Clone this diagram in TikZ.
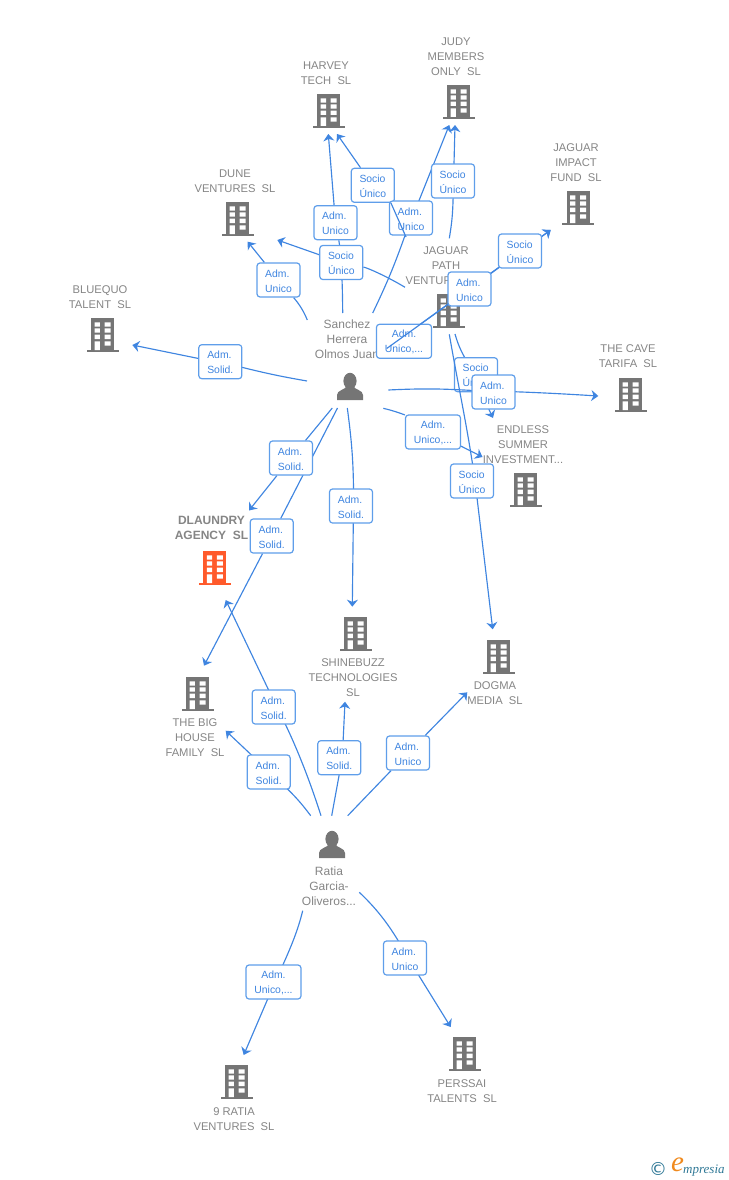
\documentclass[tikz,border=0pt]{standalone}
\usepackage{fontspec}
\setmainfont{Liberation Sans}
\newfontfamily\logoserif{Liberation Serif}
\newfontfamily\logosym{DejaVu Sans}
\usetikzlibrary{arrows.meta}
\definecolor{bldgray}{HTML}{757575}
\definecolor{txtgray}{HTML}{858585}
\definecolor{hot}{HTML}{FF5A2B}
\definecolor{linkblue}{HTML}{3F85E0}
\definecolor{boxblue}{HTML}{5F9EEA}
\definecolor{logoblue}{HTML}{2F7896}
\definecolor{logoorange}{HTML}{F08A1E}
\newcommand\bxl[1]{\raisebox{-0.9pt}[\height][\depth]{#1}}
\newcommand\bx[2]{\bxl{#1}\\\bxl{#2}}
\pgfdeclarelayer{base}\pgfdeclarelayer{edgeslow}\pgfdeclarelayer{lowbox}\pgfdeclarelayer{edges}\pgfdeclarelayer{top}
\pgfsetlayers{base,edgeslow,lowbox,edges,main,top}
\tikzset{
  x=1pt,y=-1pt,
  pics/bld/.style={code={
    \fill[#1] (-11.5,0) rectangle (11.5,32);
    \fill[#1] (-16,32) rectangle (16,34);
    \fill[white] (-8,4.3) rectangle (-2.7,8.7) (2,4.3) rectangle (8,8.7)
      (-8,10.3) rectangle (-2.7,14.6) (2,10.3) rectangle (8,14.6)
      (-8,16.7) rectangle (-2.7,21) (2,16.7) rectangle (8,21)
      (-8,23.3) rectangle (-2.7,32) (2,23.3) rectangle (8,27.7);
  }},
  pics/person/.style={code={
    \fill[bldgray] (0,8) ellipse (6.6 and 8.2);
    \fill[bldgray] (-13,27) -- (-13,22) .. controls (-13,17) and (-5,17) .. (-3,13) -- (3,13)
      .. controls (5,17) and (13,17) .. (13,22) -- (13,27) -- cycle;
  }},
  cname/.style={font=\fontsize{11.2}{15}\selectfont,text=txtgray,align=center,inner sep=0pt},
  hotname/.style={font=\fontsize{12}{15}\bfseries\selectfont,text=txtgray,align=center,inner sep=0pt},
  pername/.style={font=\fontsize{12}{15}\selectfont,text=txtgray,align=center,inner sep=0pt},
  lbl/.style={draw=boxblue,line width=1.2pt,fill=white,rounded corners=3pt,minimum width=43pt,minimum height=34pt,inner sep=0pt,
    font=\fontsize{10.4}{15}\selectfont,text=linkblue,align=left},
  lblw/.style={lbl,minimum width=55pt,align=center},
  conn/.style={draw=linkblue,line width=1.15pt},
  arr/.style={conn,-{Stealth[length=7pt,width=11pt,inset=2.2pt]}},
}
\begin{document}
\begin{tikzpicture}
\useasboundingbox (0,0) rectangle (728,1180);
\begin{pgfonlayer}{base}
  \pic (bHarvey) at (328.7,94) {bld=bldgray};
  \pic (bJudy) at (458.5,85) {bld=bldgray};
  \pic (bImpact) at (578,191) {bld=bldgray};
  \pic (bDune) at (237.5,202) {bld=bldgray};
  \pic (bPath) at (448.5,294) {bld=bldgray};
  \pic (bBlue) at (102.5,318) {bld=bldgray};
  \pic (bCave) at (630.5,378) {bld=bldgray};
  \pic (bEndless) at (525.5,473) {bld=bldgray};
  \pic (bDla) at (214.8,551) {bld=hot};
  \pic (bShine) at (355.5,617) {bld=bldgray};
  \pic (bDogma) at (498.5,640) {bld=bldgray};
  \pic (bBig) at (197.5,677) {bld=bldgray};
  \pic (bPers) at (464.5,1037) {bld=bldgray};
  \pic (bNine) at (236.5,1065) {bld=bldgray};
  \pic (pSan) at (350,373) {person};
  \pic (pRat) at (332,831) {person};
  \node[cname] (tHarvey) at (326,73) {HARVEY\\TECH~~SL};
  \node[cname] (tJudy) at (456,57) {JUDY\\MEMBERS\\ONLY~~SL};
  \node[cname] (tImpact) at (576,163) {JAGUAR\\IMPACT\\FUND~~SL};
  \node[cname] (tDune) at (235,181) {DUNE\\VENTURES~~SL};
  \node[cname] (tPath) at (446,266) {JAGUAR\\PATH\\VENTURES~~SL};
  \node[cname] (tBlue) at (100,297) {BLUEQUO\\TALENT~~SL};
  \node[cname] (tCave) at (628,356) {THE CAVE\\TARIFA~~SL};
  \node[cname] (tEndless) at (523,445) {ENDLESS\\SUMMER\\INVESTMENT...};
  \node[hotname] (tDla) at (211.5,528) {DLAUNDRY\\AGENCY~~SL};
  \node[cname] (tShine) at (353,678) {SHINEBUZZ\\TECHNOLOGIES\\SL};
  \node[cname] (tDogma) at (495,693) {DOGMA\\MEDIA~~SL};
  \node[cname] (tBig) at (195,738) {THE BIG\\HOUSE\\FAMILY~~SL};
  \node[cname] (tPers) at (462,1091) {PERSSAI\\TALENTS~~SL};
  \node[cname] (tNine) at (234,1119) {9 RATIA\\VENTURES~~SL};
  \node[pername] (tSan) at (347,339) {Sanchez\\Herrera\\Olmos Juan};
  \node[pername] (tRat) at (329,886) {Ratia\\Garcia-\\Oliveros...};
\end{pgfonlayer}

% free ends
\coordinate (sTop) at (372.7,313);
\coordinate (jn) at (406,237);
\coordinate (sHarv) at (342.7,313);
\coordinate (sDune) at (307.3,320);
\coordinate (sDuneB) at (405,287.3);
\coordinate (sBlue) at (307,381);
\coordinate (sJudyB) at (449.3,238.3);
\coordinate (sImp) at (386.7,348.5);
\coordinate (sCave) at (388.3,390);
\coordinate (sEnd) at (455,334);
\coordinate (sEnd2) at (383.3,408.3);
\coordinate (sDog) at (449.3,334.3);
\coordinate (sDla) at (332.3,408);
\coordinate (sBig) at (337.5,408);
\coordinate (sShi) at (347.3,408);
\coordinate (rDla) at (321,815.7);
\coordinate (rBig) at (310.7,815.7);
\coordinate (rShi) at (331.7,815.7);
\coordinate (rDog) at (347.7,815.7);
\coordinate (rNin) at (302.7,910.7);
\coordinate (rPer) at (359.3,892.3);
\coordinate (eHarvA) at (328.3,134);
\coordinate (eHarvS) at (337,134);
\coordinate (eJudyA) at (449.3,125);
\coordinate (eJudyS) at (455,125);
\coordinate (eImp) at (550.7,230);
\coordinate (eDuneA) at (247.7,241.7);
\coordinate (eDuneS) at (277.3,240);
\coordinate (eBlue) at (132.3,345);
\coordinate (eCave) at (598.3,396);
\coordinate (eEndS) at (493,418);
\coordinate (eEndA) at (482.5,457);
\coordinate (eDog) at (492.7,629.3);
\coordinate (eDla) at (249,510.5);
\coordinate (eBig) at (204,665.7);
\coordinate (eShi) at (352.3,606.7);
\coordinate (eDlaR) at (225.7,600);
\coordinate (eBigR) at (225.7,730.7);
\coordinate (eShiR) at (345,701.7);
\coordinate (eDogR) at (467.3,692.3);
\coordinate (eNin) at (243.7,1055);
\coordinate (ePer) at (450.7,1027);

% labels
\begin{pgfonlayer}{lowbox}
  \node[lbl] (lEndS) at (476,374.7) {\bx{Socio}{Único}};
\end{pgfonlayer}
\node[lbl] (lHarvS) at (372.8,185.3) {\bx{Socio}{Único}};
\node[lbl] (lJudyA) at (411,218) {\bx{Adm.}{Unico}};
\node[lbl] (lJudyS) at (453,181) {\bx{Socio}{Único}};
\node[lbl] (lHarvA) at (335.5,222.7) {\bx{Adm.}{Unico}};
\node[lbl] (lDuneS) at (341.3,262.5) {\bx{Socio}{Único}};
\node[lbl] (lDuneA) at (278.5,280) {\bx{Adm.}{Unico}};
\node[lbl] (lImpS) at (520,251) {\bx{Socio}{Único}};
\node[lblw] (lMisc) at (404,341.3) {\bx{Adm.}{Unico,...}};
\node[lbl] (lImpA) at (469.5,289) {\bx{Adm.}{Unico}};
\node[lbl] (lBlue) at (220.3,361.7) {\bx{Adm.}{Solid.}};
\node[lbl] (lCave) at (493.5,392) {\bx{Adm.}{Unico}};
\node[lblw] (lEndA) at (433,432) {\bx{Adm.}{Unico,...}};
\node[lbl] (lDog) at (472,481) {\bx{Socio}{Único}};
\node[lbl] (lShi) at (351,506) {\bx{Adm.}{Solid.}};
\node[lbl] (lDla) at (291,458) {\bx{Adm.}{Solid.}};
\node[lbl] (lBig) at (271.7,536) {\bx{Adm.}{Solid.}};
\node[lbl] (lDlaR) at (273.7,707) {\bx{Adm.}{Solid.}};
\node[lbl] (lBigR) at (268.7,772) {\bx{Adm.}{Solid.}};
\node[lbl] (lShiR) at (339.3,757.7) {\bx{Adm.}{Solid.}};
\node[lbl] (lDogR) at (408,753) {\bx{Adm.}{Unico}};
\node[lblw] (lNin) at (273.5,982) {\bx{Adm.}{Unico,...}};
\node[lbl] (lPer) at (405,958) {\bx{Adm.}{Unico}};

% connectors
\begin{pgfonlayer}{edgeslow}
  \draw[arr] (sEnd) to[bend right=6] (lEndS) to (eEndS);
\end{pgfonlayer}
\begin{pgfonlayer}{edges}
  \draw[arr] (sHarv) .. controls (342.5,285) and (341.5,255) .. (lHarvA) to (eHarvA);
  \draw[arr] (sTop) to[bend right=3] (lJudyA) to (eJudyA);
  \draw[arr] (sJudyB) to[bend right=4] (lJudyS) to (eJudyS);
  \draw[arr] (sDuneB) .. controls (388,277) and (368,268) .. (lDuneS) to (eDuneS);
  \draw[arr] (sDune) .. controls (304,312) and (300,305) .. (lDuneA) to (eDuneA);
  \draw[arr] (sBlue) to[bend left=2] (lBlue) to (eBlue);
  \draw[arr] (sImp) to ([yshift=-1pt]lImpS.center) to (eImp);
  \draw[arr] (lImpA.center) to (eImp);
  \draw[arr] (sCave) to[bend left=3] (lCave) to[bend left=1] (eCave);
  \draw[arr] (sEnd2) .. controls (395,411) and (405,415) .. (lEndA) to (eEndA);
  \draw[arr] (sDog) .. controls (458,385) and (468,430) .. ([xshift=3pt]lDog.center) to (eDog);
  \draw[arr] (sDla) to (lDla) to (eDla);
  \draw[arr] (sBig) to (lBig) to (eBig);
  \draw[arr] (sShi) to[bend left=4] ([xshift=2.5pt]lShi.center) to (eShi);
  \draw[arr] (rDla) .. controls (308,775) and (293,738) .. ([xshift=3pt]lDlaR.center) to (eDlaR);
  \draw[arr] (rBig) to[bend right=4] (lBigR) to (eBigR);
  \draw[arr] (rShi) to ([xshift=3pt]lShiR.center) to (eShiR);
  \draw[arr] (rDog) to (lDogR) to (eDogR);
  \draw[arr] (rNin) .. controls (298,930) and (291,948) .. ([xshift=1.5pt]lNin.center) to (eNin);
  \draw[arr] (rPer) .. controls (378,910) and (392,928) .. ([xshift=3pt]lPer.center) to (ePer);
  \draw[arr] (lHarvS) to (eHarvS);
\end{pgfonlayer}
\begin{pgfonlayer}{top}
  \draw[conn] (jn) to ([xshift=-4pt]lHarvS.south east);
  \draw[conn] (sImp) to (lImpA);
\end{pgfonlayer}

% logo
\node[inner sep=0pt,text=logoblue,font=\logosym\fontsize{18}{18}\selectfont] (logoC) at (658,1169) {©};
\node[inner sep=0pt,text=logoorange,font=\logoserif\itshape\fontsize{29}{29}\selectfont] (logoE) at (677.5,1165) {e};
\node[inner sep=0pt,anchor=base west,text=logoblue,font=\logoserif\itshape\fontsize{13}{13}\selectfont] (logoM) at (683,1173) {mpresia};
\end{tikzpicture}
\end{document}
